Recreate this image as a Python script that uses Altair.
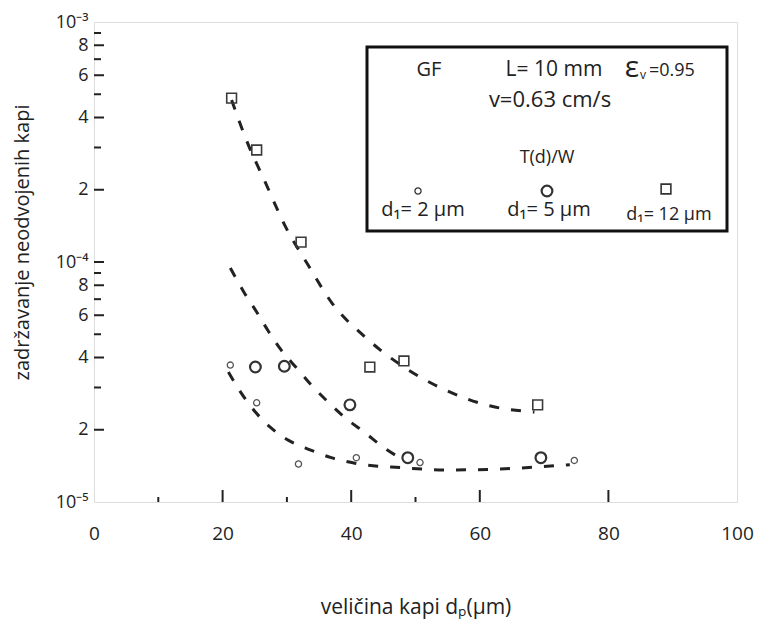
import math
import altair as alt
import pandas as pd

# ---- data ----
sq_x = [21.4, 25.3, 32.2, 42.9, 48.2, 69.0]
sq_y = [4.82e-4, 2.93e-4, 1.21e-4, 3.65e-5, 3.87e-5, 2.54e-5]

mc_x = [25.1, 29.6, 39.8, 48.8, 69.5]
mc_y = [3.65e-5, 3.68e-5, 2.54e-5, 1.53e-5, 1.53e-5]

sc_x = [21.2, 25.3, 31.8, 40.8, 50.7, 74.7]
sc_y = [3.72e-5, 2.59e-5, 1.44e-5, 1.53e-5, 1.46e-5, 1.49e-5]

curve_top_x = [21.4, 23.7, 26.7, 29.8, 33.3, 36.9, 42.3, 48.4, 54.6, 61.7, 68.5]
curve_top_y = [4.73e-4, 3.22e-4, 2.13e-4, 1.40e-4, 9.71e-5, 6.81e-5, 4.83e-5,
               3.62e-5, 2.93e-5, 2.51e-5, 2.37e-5]

curve_mid_x = [21.2, 23.3, 25.3, 27.1, 29.1, 31.5, 33.8, 36.4, 39.1, 42.2, 45.0, 48.1]
curve_mid_y = [9.44e-5, 7.50e-5, 6.19e-5, 5.16e-5, 4.30e-5, 3.62e-5, 3.07e-5,
               2.61e-5, 2.24e-5, 1.94e-5, 1.69e-5, 1.50e-5]

curve_bot_x = [20.9, 22.8, 25.1, 27.4, 30.2, 33.6, 36.9, 40.6, 47.8, 55.0, 62.3, 69.0, 74.0]
curve_bot_y = [3.48e-5, 2.87e-5, 2.37e-5, 2.05e-5, 1.81e-5, 1.65e-5, 1.53e-5,
               1.45e-5, 1.39e-5, 1.36e-5, 1.37e-5, 1.40e-5, 1.43e-5]

x_tick_values = [0, 20, 40, 60, 80, 100]
x_major_ticks = [20, 40, 60, 80]
x_minor_ticks = [10, 30, 50]

y_tick_values = [1e-5, 2e-5, 4e-5, 6e-5, 8e-5, 1e-4, 2e-4, 4e-4, 6e-4, 8e-4, 1e-3]
y_tick_labels = ["10⁻⁵", "2", "4", "6", "8", "10⁻⁴", "2", "4", "6", "8", "10⁻³"]
y_major_ticks = [2e-5, 4e-5, 6e-5, 8e-5, 1e-4, 2e-4, 4e-4, 6e-4, 8e-4]
y_minor_ticks = [3e-5, 5e-5, 7e-5, 9e-5, 3e-4, 5e-4, 7e-4, 9e-4]

x_title = "veličina kapi dₚ(μm)"
y_title = "zadržavanje neodvojenih kapi"

# ---- build ----
FONT = "Open Sans"
INK = "#222222"

label_expr = "'" + y_tick_labels[-1] + "'"
for i in reversed(range(len(y_tick_values) - 1)):
    thr = math.sqrt(y_tick_values[i] * y_tick_values[i + 1])
    label_expr = f"datum.value < {thr} ? '{y_tick_labels[i]}' : ({label_expr})"

xs = alt.Scale(domain=[0, 100], nice=False, zero=False)
ys = alt.Scale(type="log", domain=[1e-5, 1e-3], nice=False)

x_axis = alt.Axis(values=x_tick_values, labelFontSize=19, labelPadding=22,
                  ticks=False, domain=False, grid=False, labelFlush=False,
                  labelColor=INK, labelFont=FONT, title=x_title,
                  titleFontSize=21, titleFontWeight="normal", titleFont=FONT,
                  titleColor=INK, titleY=105, titleBaseline="middle")
y_axis = alt.Axis(values=y_tick_values, labelExpr=label_expr, labelFontSize=18,
                  labelPadding=6, ticks=False, domain=False, grid=False,
                  labelFlush=False, labelColor=INK, labelFont=FONT,
                  title=y_title, titleFontSize=20, titleFontWeight="normal",
                  titleFont=FONT, titleColor=INK, titleX=-72, titleY=220,
                  titleAngle=270, titleAlign="center", titleBaseline="middle")

X = alt.X("x:Q", scale=xs, axis=x_axis)
Y = alt.Y("y:Q", scale=ys, axis=y_axis)

curves = pd.concat([
    pd.DataFrame({"x": curve_top_x, "y": curve_top_y, "c": "top"}),
    pd.DataFrame({"x": curve_mid_x, "y": curve_mid_y, "c": "mid"}),
    pd.DataFrame({"x": curve_bot_x, "y": curve_bot_y, "c": "bot"}),
])

lines = alt.Chart(curves).mark_line(
    color=INK, strokeWidth=3, strokeDash=[10, 12], interpolate="monotone"
).encode(x=X, y=Y, detail="c:N")

sq = alt.Chart(pd.DataFrame({"x": sq_x, "y": sq_y})).mark_point(
    shape="square", size=95, filled=False, color="#3a3a3a", strokeWidth=1.6, opacity=1
).encode(x=X, y=Y)
mc = alt.Chart(pd.DataFrame({"x": mc_x, "y": mc_y})).mark_point(
    shape="circle", size=115, filled=False, color="#333333", strokeWidth=2.2, opacity=1
).encode(x=X, y=Y)
sc = alt.Chart(pd.DataFrame({"x": sc_x, "y": sc_y})).mark_point(
    shape="circle", size=38, filled=False, color="#555555", strokeWidth=1.3, opacity=1
).encode(x=X, y=Y)

ymaj = alt.Chart(pd.DataFrame({"y": y_major_ticks})).mark_rule(
    color=INK, strokeWidth=2).encode(y=Y, x=alt.value(0), x2=alt.value(10))
ymin = alt.Chart(pd.DataFrame({"y": y_minor_ticks})).mark_rule(
    color=INK, strokeWidth=2).encode(y=Y, x=alt.value(0), x2=alt.value(7))
xmaj = alt.Chart(pd.DataFrame({"x": x_major_ticks})).mark_rule(
    color=INK, strokeWidth=2).encode(x=X, y=alt.value(480), y2=alt.value(468))
xmin = alt.Chart(pd.DataFrame({"x": x_minor_ticks})).mark_rule(
    color=INK, strokeWidth=2).encode(x=X, y=alt.value(480), y2=alt.value(475))

one = pd.DataFrame({"k": [0]})
box = alt.Chart(one).mark_rect(fill="white", stroke="#111111", strokeWidth=3).encode(
    x=alt.value(273), x2=alt.value(633), y=alt.value(25), y2=alt.value(209))


def txt(s, x, y, size, align="center"):
    return alt.Chart(pd.DataFrame({"t": [s]})).mark_text(
        font=FONT, fontSize=size, color=INK, align=align, baseline="middle"
    ).encode(text="t:N", x=alt.value(x), y=alt.value(y))


legend_texts = [
    txt("GF", 335, 48, 20),
    txt("L= 10 mm", 460, 48, 21),
    txt("ε", 538, 46, 30),
    txt("v", 549, 53, 12),
    txt("=0.95", 555, 49, 18, align="left"),
    txt("v=0.63 cm/s", 456, 78, 22),
    txt("T(d)/W", 453, 136, 18),
    txt("d₁= 2 μm", 329, 188, 20),
    txt("d₁= 5 μm", 455, 188, 20),
    txt("d₁= 12 μm", 575, 193, 18),
]


def mk(shape, size, sw, x, y):
    return alt.Chart(one).mark_point(
        shape=shape, size=size, filled=False, color="#333333", strokeWidth=sw, opacity=1
    ).encode(x=alt.value(x), y=alt.value(y))


legend_marks = [
    mk("circle", 38, 1.3, 324, 169),
    mk("circle", 115, 2.2, 453, 169),
    mk("square", 95, 1.6, 572, 167),
]

chart = alt.layer(
    lines, sq, mc, sc, ymaj, ymin, xmaj, xmin, box, *legend_texts, *legend_marks
).properties(
    width=643, height=480,
    padding={"left": 86, "top": 14, "right": 17, "bottom": 118},
    autosize=alt.AutoSizeParams(type="none"),
).configure_view(
    stroke="#1a1a1a", strokeWidth=3
).configure(
    background="white", font=FONT
)

chart.save("out.html", embed_options={"renderer": "svg", "actions": False})
